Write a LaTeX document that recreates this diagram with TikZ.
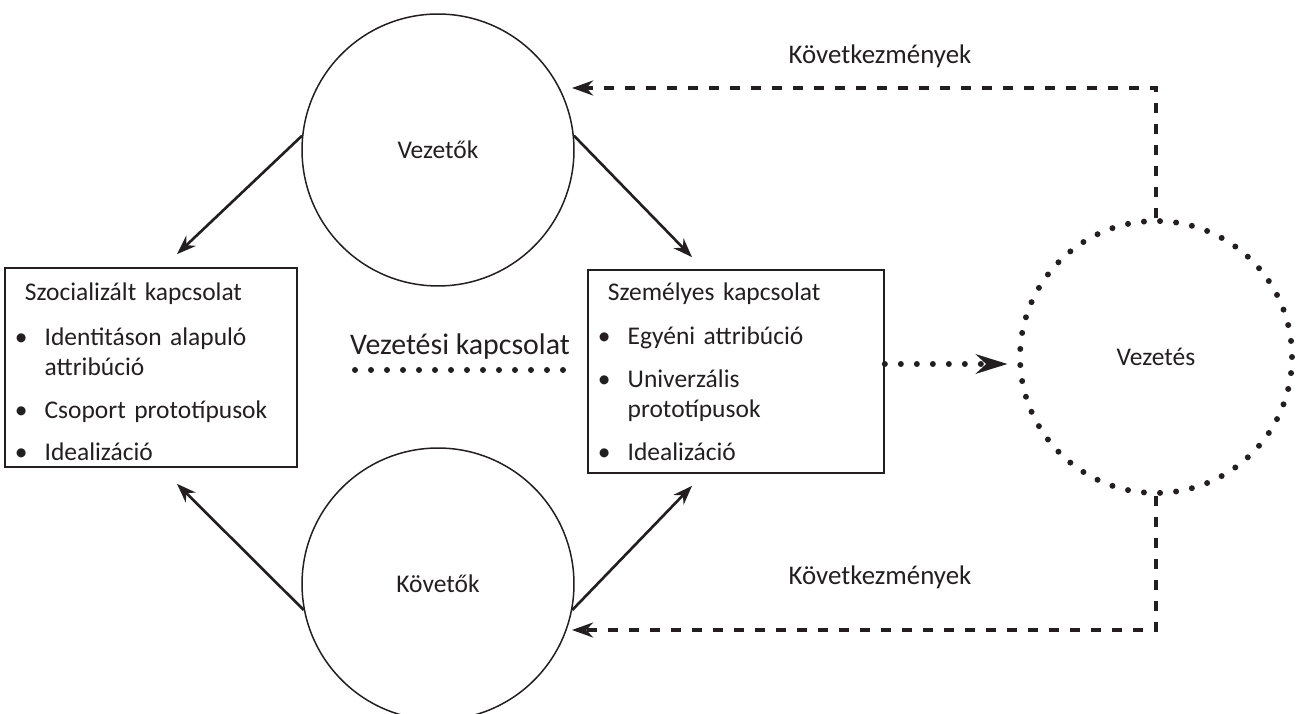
\documentclass[tikz,border=0pt]{standalone}
\usepackage{fontspec}
\setmainfont{Carlito}
\usetikzlibrary{arrows.meta, positioning}

\definecolor{ink}{RGB}{35,31,32}

% bullet item and box title
\newcommand{\kpont}[1]{\par\vspace{6.8pt}\hangindent=18pt\hangafter=1\noindent\makebox[18pt][l]{\hspace{1pt}\textbullet}#1}
\newcommand{\kcim}[1]{\noindent\hspace*{6.8pt}#1\par\vspace{1.2pt}}

\tikzset{
  kor/.style={circle, draw=ink, line width=0.85pt, minimum size=5.44cm, inner sep=0pt},
  pontkor/.style={circle, draw=ink, line width=3.4pt, line cap=round, dash pattern=on 0pt off 0.3225cm, minimum size=5.44cm, inner sep=0pt},
  doboz/.style={draw=ink, line width=1pt, align=left, inner xsep=0.16cm, inner ysep=0pt},
  nyil/.style={draw=ink, line width=1.5pt, -{Stealth[length=11pt,width=8pt]}},
  szaggatott/.style={draw=ink, line width=1.8pt, dash pattern=on 0.2cm off 0.22cm, -{Stealth[length=12pt,width=8.5pt]}},
  pontozott/.style={draw=ink, line width=3.4pt, line cap=round, dash pattern=on 0pt off 0.32cm},
}

\begin{document}
\begin{tikzpicture}[x=0.02cm, y=0.02cm, text=ink, font=\fontsize{14.5pt}{17.3pt}\selectfont]
\useasboundingbox (0,0) rectangle (1297,713);

% circles
\node[kor] (lead) at (438,563) {Vezetők};
\node[kor] (foll) at (438,129) {Követők};
\node[pontkor] (lship) at (1156,356) {Vezetés};

% boxes
\node[doboz, minimum width=5.84cm, minimum height=3.98cm, text width=5.52cm] (soc) at (151,345.5) {%
  \kcim{\rule{0pt}{15pt}Szocializált kapcsolat}%
  \kpont{Identitáson alapuló\newline attribúció}%
  \kpont{Csoport prototípusok}%
  \kpont{Idealizáció}\par};
\node[doboz, minimum width=5.92cm, minimum height=4.06cm, text width=5.60cm] (pers) at (736,341.5) {%
  \kcim{Személyes kapcsolat}%
  \kpont{Egyéni attribúció}%
  \kpont{Univerzális\newline prototípusok}%
  \kpont{Idealizáció}\par};

% labels
\node[font=\fontsize{17pt}{20pt}\selectfont] (vk) at (460,366) {Vezetési kapcsolat};
\node[font=\fontsize{15.3pt}{18pt}\selectfont] (kovA) at (880,657) {Következmények};
\node[font=\fontsize{15.3pt}{18pt}\selectfont] (kovB) at (880,136) {Következmények};

\coordinate (vkstart) at (355,343);
\coordinate (tipA) at (572,625);
\coordinate (tipB) at (572,83);

% solid arrows
\draw[nyil] (lead.174) -- ([xshift=0.52cm, yshift=0.26cm]soc.north);
\draw[nyil] (lead.6) -- ([xshift=-0.88cm, yshift=0.24cm]pers.north);
\draw[nyil] (foll.191) -- ([xshift=0.52cm, yshift=-0.32cm]soc.south);
\draw[nyil] (foll.349) -- ([xshift=-0.88cm, yshift=-0.24cm]pers.south);

% dotted lines
\draw[pontozott, shorten >=0.2cm] (vkstart) -- (vkstart -| pers.west);
\draw[pontozott, shorten >=0.19cm, -{Stealth[length=18pt,width=11pt]}] ([yshift=0.15cm]pers.east) -- ([yshift=0.15cm]pers.east -| lship.west);

% consequences
\draw[szaggatott] (lship.north) |- (tipA);
\draw[szaggatott] (lship.south) |- (tipB);
\end{tikzpicture}
\end{document}
